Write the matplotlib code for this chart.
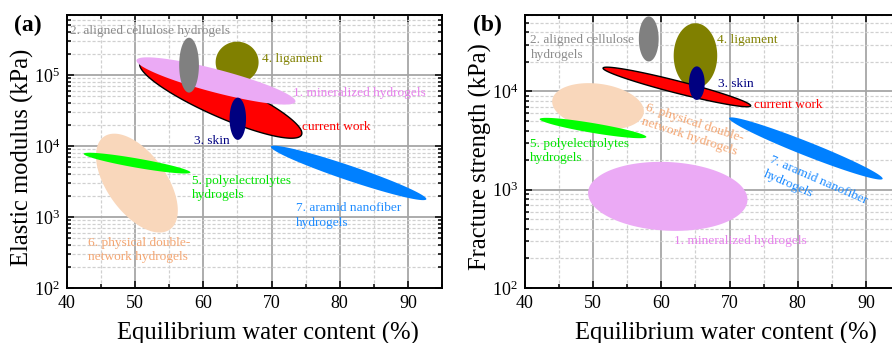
import numpy as np
import matplotlib
matplotlib.use("Agg")
import matplotlib.pyplot as plt
from matplotlib.ticker import MultipleLocator, LogLocator, LogFormatterMathtext, NullFormatter

plt.rcParams['font.family'] = ['Liberation Serif', 'DejaVu Serif']
plt.rcParams['mathtext.fontset'] = 'custom'
plt.rcParams['mathtext.rm'] = 'Liberation Serif'
plt.rcParams['mathtext.it'] = 'Liberation Serif:italic'

# material groups, in drawing order
groups = ['ligament', 'current', 'mineralized', 'cellulose', 'skin',
          'double network', 'polyelectrolytes', 'aramid']
fill_colors = ['#808000', '#ff0000', '#ebaaf5', '#808080', '#000080',
               '#f9d7bb', '#00ff00', '#0080ff']
text_colors = ['#808000', '#ff0000', '#e680ec', '#8c8c8c', '#000080',
               '#f4a672', '#00e400', '#1e8cff']

# (a) elastic modulus: major-axis end points (water %, kPa) and minor/major ratio
mod_x1 = [61.8, 50.7, 50.2, 57.9, 65.05, 45.4, 42.45, 69.9]
mod_y1 = [1.51e5, 1.48e5, 1.62e5, 3.35e5, 4.8e4, 1.35e4, 7.77e3, 9.8e3]
mod_x2 = [68.1, 74.4, 73.5, 57.9, 65.05, 55.1, 58.1, 92.7]
mod_y2 = [1.51e5, 1.44e4, 4.2e4, 5.65e4, 1.22e4, 668, 4.24e3, 1.78e3]
mod_ratio = [0.96, 0.2, 0.14, 0.36, 0.39, 0.52, 0.085, 0.09]

# (b) fracture strength
str_x1 = [65.0, 51.45, 49.25, 58.15, 65.2, 44.0, 42.15, 69.94]
str_y1 = [4.95e4, 1.73e4, 940, 5.8e4, 1.8e4, 8.17e3, 5.24e3, 5.36e3]
str_x2 = [65.0, 73.1, 72.63, 58.15, 65.2, 57.42, 57.8, 92.45]
str_y2 = [1.08e4, 7.14e3, 780, 2.02e4, 8.2e3, 6.07e3, 3.44e3, 1.29e3]
str_ratio = [0.67, 0.08, 0.43, 0.44, 0.47, 0.49, 0.09, 0.085]

# labels for (a)
mod_text = ['4. ligament', 'current work', '1. mineralized hydrogels',
            '2. aligned cellulose hydrogels', '3. skin',
            '6. physical double-\nnetwork hydrogels',
            '5. polyelectrolytes\nhydrogels', '7. aramid nanofiber\nhydrogels']
mod_tx = [68.6, 74.4, 73.2, 40.4, 58.6, 43.1, 58.3, 73.6]
mod_ty = [1.68e5, 1.84e4, 5.65e4, 4.1e5, 1.16e4, 342, 2.55e3, 1.06e3]

# labels for (b)
str_text = ['4. ligament', 'current work', '1. mineralized hydrogels',
            '2. aligned cellulose\nhydrogels', '3. skin',
            '6. physical double-\nnetwork hydrogels',
            '5. polyelectrolytes\nhydrogels', '7. aramid nanofiber\nhydrogels']
str_tx = [68.2, 73.56, 61.8, 40.8, 68.3, 64.56, 40.7, 82.66]
str_ty = [3.35e4, 7.26e3, 298, 2.82e4, 1.19e4, 4.0e3, 2.47e3, 1.06e3]
str_rot = [0, 0, 0, 0, 0, -18, 0, -23.5]


def draw_ellipse(ax, x1, y1, x2, y2, ratio, **kw):
    # build the ellipse in screen space so it looks right on the log axis
    p = ax.transData.transform([(x1, y1), (x2, y2)])
    c = p.mean(axis=0)
    d = p[1] - p[0]
    a = np.hypot(*d) / 2
    u = d / (2 * a)
    v = np.array([-u[1], u[0]])
    t = np.linspace(0, 2 * np.pi, 240)
    pts = c + np.outer(a * np.cos(t), u) + np.outer(a * ratio * np.sin(t), v)
    xy = ax.transData.inverted().transform(pts)
    ax.fill(xy[:, 0], xy[:, 1], **kw)


def setup(ax, ylim, ylabel, tag, tagx):
    ax.set_yscale('log')
    ax.set_xlim(40, 95)
    ax.set_ylim(*ylim)
    ax.set_axisbelow(True)
    ax.xaxis.set_major_locator(MultipleLocator(10))
    ax.xaxis.set_minor_locator(MultipleLocator(5))
    ax.yaxis.set_major_locator(LogLocator(10))
    ax.yaxis.set_minor_locator(LogLocator(10, subs=np.arange(2, 10)))
    ax.yaxis.set_major_formatter(LogFormatterMathtext())
    ax.yaxis.set_minor_formatter(NullFormatter())
    ax.grid(which='major', color='#a6a6a6', lw=1.3, ls='-')
    ax.grid(which='minor', color='#d0d0d0', lw=0.9, ls=(0, (2.5, 1.5)))
    ax.tick_params(which='both', direction='in', top=True, right=True,
                   labelsize=13, width=1.1, pad=5)
    ax.tick_params(which='major', length=5)
    ax.tick_params(which='minor', length=3)
    for s in ax.spines.values():
        s.set_linewidth(1.4)
    ax.set_xlabel('Equilibrium water content (%)', fontsize=17.7, va='center')
    ax.xaxis.set_label_coords(0.536, -0.165)
    ax.set_ylabel(ylabel, fontsize=17.7, va='center')
    ax.yaxis.set_label_coords(-0.12, 0.48)
    ax.text(tagx, 1.0, tag, transform=ax.transAxes, fontsize=17,
            fontweight='bold', va='top', ha='right')


fig = plt.figure(figsize=(8.92, 3.43), dpi=100)
ax1 = fig.add_axes([67 / 892, 55 / 343, 375 / 892, 273 / 343])
ax2 = fig.add_axes([525 / 892, 55 / 343, 375 / 892, 273 / 343])
setup(ax1, (100, 7e5), 'Elastic modulus (kPa)', '(a)', -0.067)
setup(ax2, (100, 6e4), 'Fracture strength (kPa)', '(b)', -0.061)

for i, g in enumerate(groups):
    edge = dict(edgecolor='black', linewidth=1.0) if g == 'current' else dict(linewidth=0)
    draw_ellipse(ax1, mod_x1[i], mod_y1[i], mod_x2[i], mod_y2[i], mod_ratio[i],
                 facecolor=fill_colors[i], **edge)
    draw_ellipse(ax2, str_x1[i], str_y1[i], str_x2[i], str_y2[i], str_ratio[i],
                 facecolor=fill_colors[i], **edge)

for i in range(len(groups)):
    ax1.text(mod_tx[i], mod_ty[i], mod_text[i], color=text_colors[i], fontsize=9.6,
             ha='left', va='center', linespacing=1.3)
    if str_rot[i]:
        ax2.text(str_tx[i], str_ty[i], str_text[i], color=text_colors[i], fontsize=9.6,
                 ha='center', va='center', rotation=str_rot[i],
                 rotation_mode='anchor', multialignment='left', linespacing=1.3)
    else:
        ax2.text(str_tx[i], str_ty[i], str_text[i], color=text_colors[i], fontsize=9.6,
                 ha='left', va='center', linespacing=1.3)

fig.savefig('out.png', dpi=100)
